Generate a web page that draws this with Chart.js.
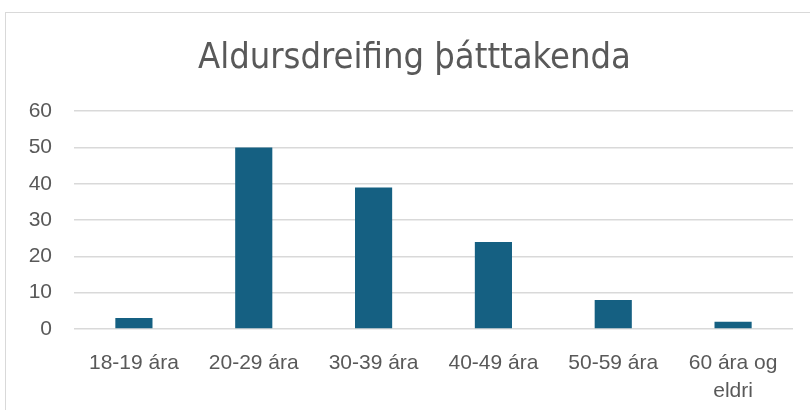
<!DOCTYPE html>
<html>
<head>
<meta charset="utf-8">
<script src="https://cdn.jsdelivr.net/npm/chart.js@4"></script>
<style>
  body { margin: 0; background: #fff; }
  #wrap { position: relative; width: 810px; height: 410px; overflow: hidden; }
  #frame { position: absolute; left: 5px; top: 12px; width: 900px; height: 500px; border: 1px solid #d9d9d9; }
  canvas { position: absolute; left: 0; top: 0; }
</style>
</head>
<body>
<div id="wrap">
  <div id="frame"></div>
  <canvas id="myChart" width="810" height="410"></canvas>
</div>
<script>
const categories = ["18-19 ára", "20-29 ára", "30-39 ára", "40-49 ára", "50-59 ára", ["60 ára og", "eldri"]]
const participants = [3, 50, 39, 24, 8, 2]
const yTicks = [0, 10, 20, 30, 40, 50, 60]

// the title sits a little right of the plot centre in the original
const shiftTitle = {
    id: 'shiftTitle',
    afterLayout(chart) {
        chart.titleBlock.left += 13
        chart.titleBlock.right += 13
    }
}

const data = {
    labels: categories,
    datasets: [
        {
            label: "Þátttakendur",
            data: participants,
            backgroundColor: "#156082",
            categoryPercentage: 1,
            barPercentage: 0.31
        }
    ]
}

const config = {
    type: 'bar',
    data: data,
    plugins: [shiftTitle],
    options: {
        responsive: false,
        animation: false,
        layout: { padding: { left: 10, right: 17, top: 0, bottom: 0 } },
        plugins: {
            legend: { display: false },
            tooltip: { enabled: false },
            title: {
                display: true,
                text: "Aldursdreifing þátttakenda",
                color: "#595959",
                font: { family: "'Liberation Sans Narrow', 'DejaVu Sans Condensed', sans-serif", size: 36, weight: 'normal', lineHeight: 1.2 },
                padding: { top: 37, bottom: 31 }
            }
        },
        scales: {
            x: {
                grid: { display: false },
                border: { display: false },
                afterFit: (axis) => { axis.height = 81 },
                ticks: {
                    color: "#595959",
                    font: { family: "'Liberation Sans', Arial, sans-serif", size: 21, lineHeight: 1.35 },
                    maxRotation: 0,
                    autoSkip: false,
                    padding: 12
                }
            },
            y: {
                min: 0,
                max: 60,
                afterBuildTicks: (axis) => { axis.ticks = yTicks.map(v => ({ value: v })) },
                afterFit: (axis) => { axis.width = 64 },
                grid: { color: "#d9d9d9", lineWidth: 1.5, drawTicks: false },
                border: { display: false },
                ticks: {
                    color: "#595959",
                    font: { family: "'Liberation Sans', Arial, sans-serif", size: 21 },
                    padding: 22
                }
            }
        }
    },
}
const ctx = document.getElementById('myChart').getContext('2d')
new Chart(ctx, config)
</script>
</body>
</html>
